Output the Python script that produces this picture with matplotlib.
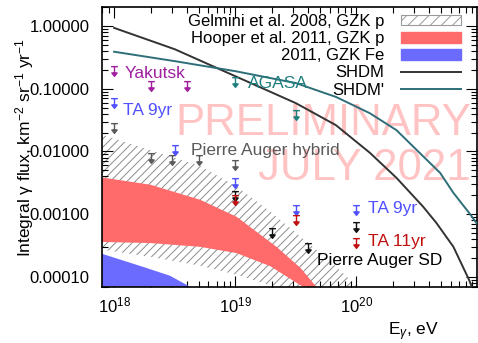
import numpy as np
import matplotlib
matplotlib.use("Agg")
import matplotlib.pyplot as plt
from matplotlib.path import Path
from matplotlib.patches import Patch
from matplotlib.lines import Line2D
from matplotlib.ticker import LogLocator, FormatStrFormatter, NullFormatter

plt.rcParams['font.family'] = ['Liberation Sans', 'DejaVu Sans']
plt.rcParams['mathtext.fontset'] = 'custom'
plt.rcParams['mathtext.rm'] = 'Liberation Sans'
plt.rcParams['mathtext.it'] = 'Liberation Sans:italic'
plt.rcParams['hatch.linewidth'] = 0.7

# ---- model curves (log10 E [eV], log10 flux) ----
shdm_lgE = [18.0, 18.5, 19.0, 19.5, 19.83, 20.11, 20.33, 20.55, 20.66, 20.8, 20.93, 21.0]
shdm_lgF = [-0.03, -0.37, -0.80, -1.23, -1.58, -2.02, -2.42, -2.88, -3.14, -3.52, -4.05, -4.4]
shdm2_lgE = [18.0, 18.5, 19.0, 19.5, 19.83, 20.11, 20.33, 20.52, 20.69, 20.8, 20.93, 21.05]
shdm2_lgF = [-0.41, -0.56, -0.72, -0.91, -1.13, -1.39, -1.66, -2.02, -2.34, -2.66, -2.98, -3.3]

# Gelmini et al. 2008, GZK p (hatched band)
gel_up_lgE = [17.85, 18.3, 18.71, 19.02, 19.29, 19.54, 19.79, 20.01, 20.1]
gel_up_lgF = [-1.70, -1.98, -2.23, -2.57, -2.96, -3.36, -3.76, -4.16, -4.3]
gel_lo_lgE = [17.85, 18.3, 18.71, 19.04, 19.33, 19.5]
gel_lo_lgF = [-3.55, -3.68, -3.82, -3.98, -4.16, -4.3]

# Hooper et al. 2011, GZK p
hp_up_lgE = [17.85, 18.3, 18.71, 19.01, 19.34, 19.54, 19.67, 19.75]
hp_up_lgF = [-2.40, -2.53, -2.77, -3.04, -3.52, -3.86, -4.16, -4.35]
hp_lo_lgE = [17.85, 18.3, 18.71, 19.01, 19.29, 19.56, 19.7]
hp_lo_lgF = [-3.44, -3.46, -3.52, -3.62, -3.83, -4.16, -4.4]

# Hooper et al. 2011, GZK Fe
hfe_up_lgE = [17.85, 18.24, 18.46, 18.63, 18.75]
hfe_up_lgF = [-3.60, -3.84, -3.98, -4.16, -4.3]
hfe_lo_lgE = [17.85, 18.75]
hfe_lo_lgF = [-5.0, -5.0]

# ---- upper limits ----
yak_E = [1e18, 2e18, 4e18]
yak_F = [0.19, 0.11, 0.11]
agasa_E = [1e19, 3.16e19]
agasa_F = [0.129, 0.038]
ta9_E = [1e18, 3.16e18, 1e19, 3.16e19, 1e20]
ta9_F = [0.059, 0.0105, 0.0032, 0.00118, 0.00118]
ta11_E = [1e19, 3.16e19, 1e20]
ta11_F = [0.0017, 0.00081, 0.00035]
hyb_E = [1e18, 2e18, 3e18, 5e18, 1e19]
hyb_F = [0.0235, 0.0079, 0.0073, 0.0073, 0.0061]
sd_E = [1e19, 2e19, 4e19, 1e20]
sd_F = [0.00195, 0.0005, 0.00029, 0.00063]

# upper-limit marker: bar, stem, filled arrow head
ul_path = Path(
    [(-0.7, 1), (0.7, 1), (0, 1), (0, -0.3),
     (-0.55, -0.3), (0.55, -0.3), (0, -1), (-0.55, -0.3)],
    [Path.MOVETO, Path.LINETO, Path.MOVETO, Path.LINETO,
     Path.MOVETO, Path.LINETO, Path.LINETO, Path.CLOSEPOLY])

fig = plt.figure(figsize=(4.78, 3.43), dpi=100)
ax = fig.add_axes([0.2134, 0.1633, 0.7846, 0.8163])

p10 = lambda v: 10 ** np.asarray(v)

# bands
ax.fill(p10(gel_up_lgE + gel_lo_lgE[::-1]), p10(gel_up_lgF + gel_lo_lgF[::-1]),
        facecolor='white', edgecolor='#8c8c8c', hatch='////', linewidth=0, zorder=1)
ax.fill(p10(hp_up_lgE + hp_lo_lgE[::-1]), p10(hp_up_lgF + hp_lo_lgF[::-1]),
        color='#ff6b6b', linewidth=0, zorder=2)
ax.fill(p10(hfe_up_lgE + hfe_lo_lgE[::-1]), p10(hfe_up_lgF + hfe_lo_lgF[::-1]),
        color='#6b6bff', linewidth=0, zorder=2)

# watermark
ax.text(0.984, 0.543, 'PRELIMINARY', transform=ax.transAxes, ha='right', va='baseline',
        fontsize=31.5, color='#ff9c9c', alpha=0.6, zorder=3)
ax.text(0.984, 0.382, 'JULY 2021', transform=ax.transAxes, ha='right', va='baseline',
        fontsize=31.5, color='#ff9c9c', alpha=0.6, zorder=3)

# model lines
ax.plot(p10(shdm_lgE), p10(shdm_lgF), color='#333333', lw=1.4, zorder=4)
ax.plot(p10(shdm2_lgE), p10(shdm2_lgF), color='#2e6e78', lw=1.4, zorder=4)

# limits
def ul(E, F, c):
    ax.plot(E, F, ls='none', marker=ul_path, markersize=7, color=c,
            markeredgewidth=1.0, markerfacecolor=c, zorder=5)

ul(yak_E, yak_F, '#a020a0')
ul(agasa_E, agasa_F, '#1f8080')
ul(hyb_E, hyb_F, '#5a5a5a')
ul(ta9_E, ta9_F, '#5050ff')
ul(sd_E, sd_F, '#111111')
ul(ta11_E, ta11_F, '#c01010')

# labels of experiments
lab = dict(transform=ax.transAxes, ha='left', va='baseline', fontsize=12.5, zorder=6)
ax.text(0.059, 0.746, 'Yakutsk', color='#a020a0', **lab)
ax.text(0.056, 0.614, 'TA 9yr', color='#5050ff', **lab)
ax.text(0.237, 0.471, 'Pierre Auger hybrid', color='#5a5a5a', **lab)
ax.text(0.389, 0.711, 'AGASA', color='#1f8080', **lab)
ax.text(0.709, 0.264, 'TA 9yr', color='#5050ff', **lab)
ax.text(0.709, 0.146, 'TA 11yr', color='#c01010', **lab)
ax.text(0.573, 0.079, 'Pierre Auger SD', color='black', **lab)

ax.set_xscale('log')
ax.set_yscale('log')
ax.set_xlim(10 ** 17.9, 10 ** 20.995)
ax.set_ylim(10 ** -4.16, 10 ** 0.303)

ax.yaxis.set_major_locator(LogLocator(base=10))
ax.yaxis.set_major_formatter(FormatStrFormatter('%.5f'))
ax.yaxis.set_minor_formatter(NullFormatter())
ax.xaxis.set_minor_formatter(NullFormatter())
ax.tick_params(which='both', direction='in', top=True, right=True, labelsize=12)
ax.tick_params(which='major', length=8, width=0.8)
ax.tick_params(which='minor', length=4, width=0.8)
ax.tick_params(axis='x', pad=6)
ax.tick_params(axis='y', pad=9)
for s in ax.spines.values():
    s.set_linewidth(1.2)

ax.set_ylabel('Integral \u03b3 flux, km$^{-2}$ sr$^{-1}$ yr$^{-1}$', fontsize=12.5)
ax.yaxis.set_label_coords(-0.175, 0.5)
ax.set_xlabel('E$_{\u03b3}$, eV', fontsize=12.5, ha='right')
ax.xaxis.set_label_coords(0.90, -0.12)

handles = [
    Patch(facecolor='white', edgecolor='#9a9a9a', hatch='///', linewidth=0.8),
    Patch(facecolor='#ff6b6b', edgecolor='#ff6b6b'),
    Patch(facecolor='#6b6bff', edgecolor='#6b6bff'),
    Line2D([], [], color='#333333', lw=1.4),
    Line2D([], [], color='#2e6e78', lw=1.4),
]
labels = ['Gelmini et al. 2008, GZK p', 'Hooper et al. 2011, GZK p',
          '2011, GZK Fe', 'SHDM', "SHDM'"]
leg = ax.legend(handles, labels, loc='upper right', bbox_to_anchor=(0.957, 0.975),
                frameon=False, markerfirst=False, fontsize=12, borderpad=0,
                borderaxespad=0, labelspacing=0.13, handlelength=3.6,
                handleheight=0.6, handletextpad=1.0)
leg.set_zorder(7)

fig.savefig('out.png', dpi=100)
